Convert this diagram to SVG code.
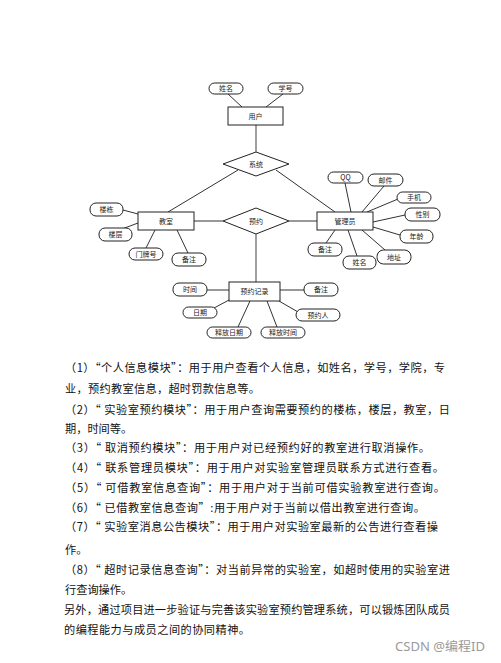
<svg xmlns="http://www.w3.org/2000/svg" width="501" height="663" viewBox="0 0 501 663">
<style>
.ent{fill:#fff;stroke:#222;stroke-width:1}
.att{fill:#fff;stroke:#222;stroke-width:1}
.rel{fill:#fff;stroke:#222;stroke-width:1}
.lbl{font-family:"Noto Sans CJK SC","Noto Sans",sans-serif;font-size:7px;fill:#222;text-anchor:middle}
.con line{stroke:#333;stroke-width:1}
.con line.thick{stroke:#888;stroke-width:1.6}
.p{font-family:"Noto Sans CJK SC","Noto Sans",sans-serif;font-size:11.2px;fill:#111}
.wm{font-family:"Noto Sans","Noto Sans CJK SC",sans-serif;font-size:12.5px;fill:#9a9a9a}
</style>
<rect width="501" height="663" fill="#fff"/>
<g id="connectors" class="con">
<line x1="228" y1="94" x2="242" y2="107"/>
<line x1="283" y1="94" x2="266" y2="107"/>
<line class="thick" x1="256" y1="125" x2="256" y2="152"/>
<line x1="238" y1="170" x2="168" y2="212"/>
<line x1="276" y1="170" x2="335" y2="212"/>
<line x1="194" y1="221" x2="223" y2="221"/>
<line x1="289" y1="221" x2="317" y2="221"/>
<line class="thick" x1="256" y1="234" x2="256" y2="282"/>
<line x1="123" y1="210" x2="138" y2="214"/>
<line x1="122" y1="229" x2="138" y2="223"/>
<line x1="146" y1="248" x2="155" y2="230"/>
<line x1="188" y1="253" x2="177" y2="230"/>
<line x1="345" y1="183" x2="351" y2="212"/>
<line x1="384" y1="186" x2="362" y2="212"/>
<line x1="398" y1="199" x2="367" y2="212"/>
<line x1="405" y1="215" x2="373" y2="222"/>
<line x1="400" y1="235" x2="373" y2="227"/>
<line x1="385" y1="250" x2="362" y2="230"/>
<line x1="357" y1="256" x2="348" y2="230"/>
<line x1="326" y1="243" x2="335" y2="230"/>
<line x1="207" y1="290" x2="229" y2="290"/>
<line x1="304" y1="290" x2="280" y2="290"/>
<line x1="214" y1="308" x2="229" y2="300"/>
<line x1="298" y1="312" x2="279" y2="301"/>
<line x1="238" y1="327" x2="250" y2="301"/>
<line x1="277" y1="327" x2="267" y2="301"/>
</g>
<g id="user"><rect class="ent" x="228" y="107" width="55" height="18"/><text class="lbl" x="255.5" y="118.5">用户</text></g>
<g id="classroom"><rect class="ent" x="138" y="212" width="56" height="18"/><text class="lbl" x="166" y="223.5">教室</text></g>
<g id="admin"><rect class="ent" x="317" y="212" width="56" height="18"/><text class="lbl" x="345" y="223.5">管理员</text></g>
<g id="record"><rect class="ent" x="229" y="282" width="51" height="19"/><text class="lbl" x="254.5" y="294">预约记录</text></g>
<g id="system"><polygon class="rel" points="223,164 256,152 289,164 256,176"/><text class="lbl" x="256" y="166.5">系统</text></g>
<g id="reserve"><polygon class="rel" points="223,221 256,208 289,221 256,234"/><text class="lbl" x="256" y="223.5">预约</text></g>
<g id="a-name"><rect class="att" x="209" y="83" width="34" height="11" rx="5.5"/><text class="lbl" x="226" y="91">姓名</text></g>
<g id="a-sno"><rect class="att" x="268" y="83" width="35" height="11" rx="5.5"/><text class="lbl" x="285.5" y="91">学号</text></g>
<g id="a-building"><rect class="att" x="90" y="203" width="33" height="13" rx="6"/><text class="lbl" x="106.5" y="212">楼栋</text></g>
<g id="a-floor"><rect class="att" x="99" y="228" width="33" height="13" rx="6"/><text class="lbl" x="115.5" y="237">楼层</text></g>
<g id="a-door"><rect class="att" x="129" y="248" width="34" height="12" rx="6"/><text class="lbl" x="146" y="256.5">门牌号</text></g>
<g id="a-note1"><rect class="att" x="172" y="253" width="34" height="13" rx="6"/><text class="lbl" x="189" y="262">备注</text></g>
<g id="a-qq"><rect class="att" x="328" y="172" width="35" height="11" rx="5.5"/><text class="lbl" x="345.5" y="180">QQ</text></g>
<g id="a-mail"><rect class="att" x="368" y="174" width="35" height="12" rx="6"/><text class="lbl" x="385.5" y="182.5">邮件</text></g>
<g id="a-phone"><rect class="att" x="397" y="192" width="34" height="11" rx="5.5"/><text class="lbl" x="414" y="200">手机</text></g>
<g id="a-sex"><rect class="att" x="405" y="208" width="35" height="13" rx="6"/><text class="lbl" x="422.5" y="217">性别</text></g>
<g id="a-age"><rect class="att" x="400" y="230" width="33" height="13" rx="6"/><text class="lbl" x="416.5" y="239">年龄</text></g>
<g id="a-addr"><rect class="att" x="377" y="250" width="34" height="14" rx="6.5"/><text class="lbl" x="394" y="259.5">地址</text></g>
<g id="a-name2"><rect class="att" x="343" y="256" width="33" height="13" rx="6"/><text class="lbl" x="359.5" y="265">姓名</text></g>
<g id="a-note2"><rect class="att" x="308" y="243" width="34" height="13" rx="6"/><text class="lbl" x="325" y="252">备注</text></g>
<g id="a-time"><rect class="att" x="173" y="283" width="34" height="13" rx="6"/><text class="lbl" x="190" y="292">时间</text></g>
<g id="a-note3"><rect class="att" x="304" y="283" width="34" height="13" rx="6"/><text class="lbl" x="321" y="292">备注</text></g>
<g id="a-date"><rect class="att" x="183" y="307" width="34" height="11" rx="5.5"/><text class="lbl" x="200" y="315">日期</text></g>
<g id="a-person"><rect class="att" x="296" y="309" width="44" height="12" rx="6"/><text class="lbl" x="318" y="317.5">预约人</text></g>
<g id="a-reldate"><rect class="att" x="207" y="327" width="44" height="11" rx="5.5"/><text class="lbl" x="229" y="335">释放日期</text></g>
<g id="a-reltime"><rect class="att" x="261" y="327" width="44" height="11" rx="5.5"/><text class="lbl" x="283" y="335">释放时间</text></g>
<g id="text">
<text class="p" x="65" y="372" textLength="380" lengthAdjust="spacing">（1）“个人信息模块”：用于用户查看个人信息，如姓名，学号，学院，专</text>
<text class="p" x="65" y="393" textLength="195" lengthAdjust="spacing">业，预约教室信息，超时罚款信息等。</text>
<text class="p" x="65" y="414" textLength="385" lengthAdjust="spacing">（2）“ 实验室预约模块”：用于用户查询需要预约的楼栋，楼层，教室，日</text>
<text class="p" x="65" y="433">期，时间等。</text>
<text class="p" x="65" y="452" textLength="365" lengthAdjust="spacing">（3）“ 取消预约模块”：用于用户对已经预约好的教室进行取消操作。</text>
<text class="p" x="65" y="472" textLength="379" lengthAdjust="spacing">（4）“ 联系管理员模块”：用于用户对实验室管理员联系方式进行查看。</text>
<text class="p" x="65" y="492" textLength="380" lengthAdjust="spacing">（5）“ 可借教室信息查询”：用于用户对于当前可借实验教室进行查询。</text>
<text class="p" x="65" y="512" textLength="360" lengthAdjust="spacing">（6）“ 已借教室信息查询”:用于用户对于当前以借出教室进行查询。</text>
<text class="p" x="65" y="531" textLength="373" lengthAdjust="spacing">（7）“ 实验室消息公告模块”：用于用户对实验室最新的公告进行查看操</text>
<text class="p" x="65" y="554">作。</text>
<text class="p" x="65" y="574" textLength="385" lengthAdjust="spacing">（8）“ 超时记录信息查询”：对当前异常的实验室，如超时使用的实验室进</text>
<text class="p" x="65" y="594">行查询操作。</text>
<text class="p" x="64" y="614" textLength="386" lengthAdjust="spacing">另外，通过项目进一步验证与完善该实验室预约管理系统，可以锻炼团队成员</text>
<text class="p" x="64" y="634" textLength="186" lengthAdjust="spacing">的编程能力与成员之间的协同精神。</text>
</g>
<text class="wm" x="395" y="651" textLength="90" lengthAdjust="spacingAndGlyphs">CSDN @编程ID</text>
</svg>
